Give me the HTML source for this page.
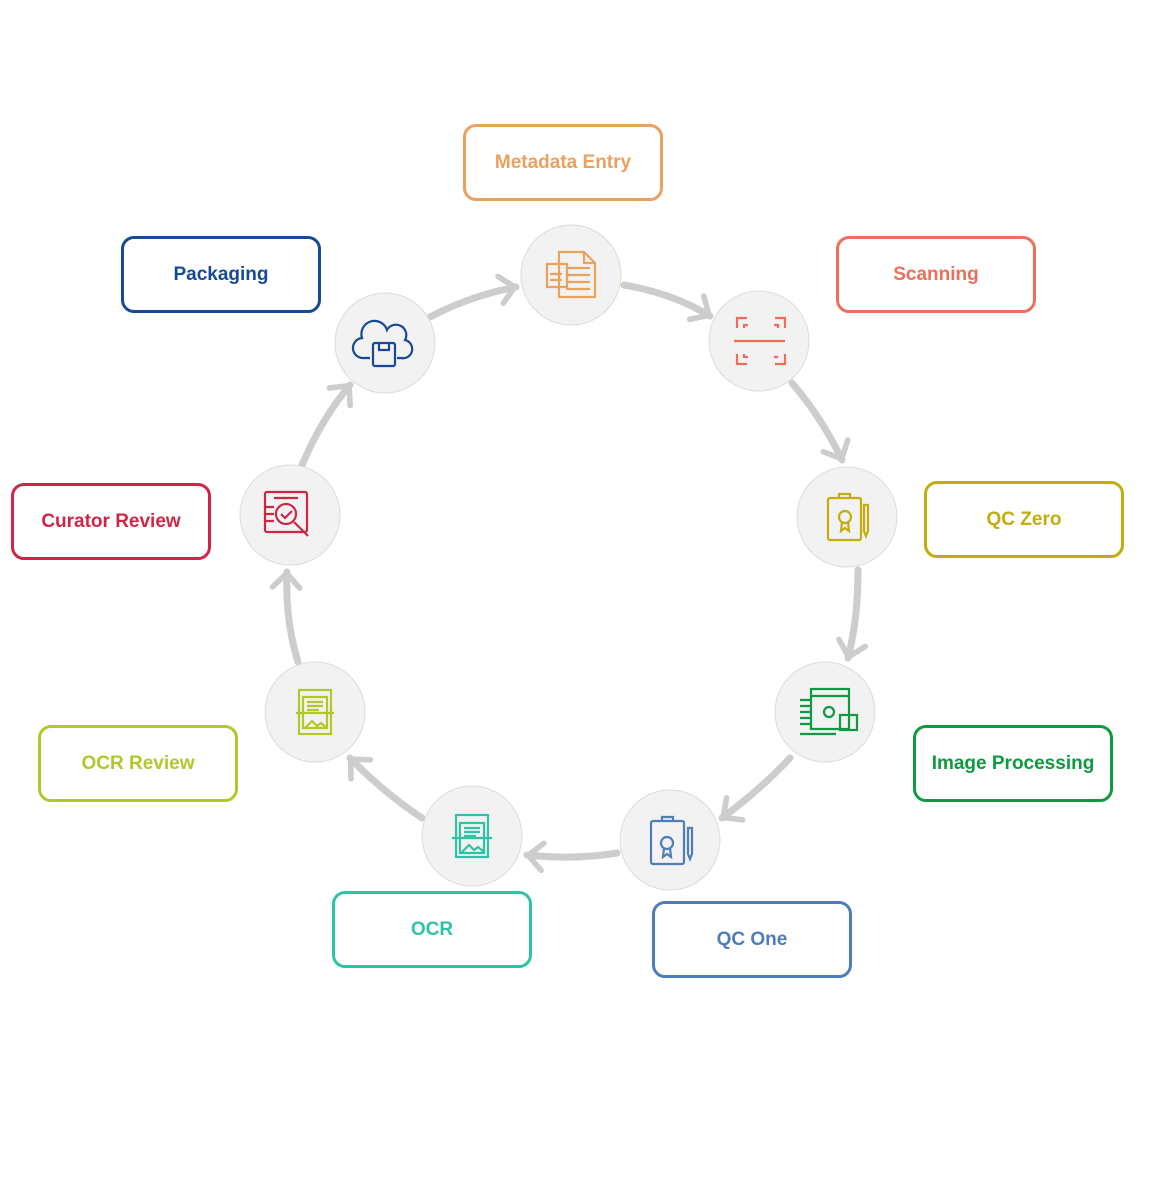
<!DOCTYPE html>
<html><head><meta charset="utf-8"><style>
body{margin:0;background:#fff;width:1158px;height:1198px;position:relative;overflow:hidden;font-family:"Liberation Sans",sans-serif}
.b{position:absolute;width:194px;height:71px;border:3px solid;border-radius:13px;display:flex;align-items:center;justify-content:center;font-weight:bold;font-size:19px;box-sizing:content-box}
</style></head><body>
<svg width="1158" height="1198" style="position:absolute;left:0;top:0">
<defs><marker id="m" markerWidth="8" markerHeight="10" refX="6" refY="5" orient="auto" markerUnits="userSpaceOnUse" viewBox="0 0 8 10" overflow="visible">
<path d="M-12,-12 L6,5 L-12,22" fill="none" stroke="#cdcdcd" stroke-width="7" stroke-linecap="round" stroke-linejoin="round" transform="scale(0.8) translate(0,1)"/></marker></defs>
<g fill="none" stroke="#cdcdcd" stroke-width="7" stroke-linecap="round" marker-end="url(#m)">
<path d="M624,285 Q672,293 710,316"/>
<path d="M792,383 Q822,418 842,460"/>
<path d="M858,570 Q858,620 848,658"/>
<path d="M790,758 Q760,790 722,818"/>
<path d="M617,853 Q575,860 527,855"/>
<path d="M422,818 Q383,792 350,758"/>
<path d="M298,662 Q285,620 287,572"/>
<path d="M302,465 Q322,418 350,385"/>
<path d="M430,317 Q470,296 516,287"/>
</g>
<g fill="#f2f2f2" stroke="#dcdcdc" stroke-width="1">
<circle cx="571" cy="275" r="50"/><circle cx="759" cy="341" r="50"/><circle cx="847" cy="517" r="50"/>
<circle cx="825" cy="712" r="50"/><circle cx="670" cy="840" r="50"/><circle cx="472" cy="836" r="50"/>
<circle cx="315" cy="712" r="50"/><circle cx="290" cy="515" r="50"/><circle cx="385" cy="343" r="50"/>
</g>
<g fill="none" stroke-width="2.2">
<!-- metadata -->
<g stroke="#eba15e"><path d="M559,252 h25 l11,11 v34 h-36 z M584,252 v11 h11"/><path d="M547,264 h20 v23 h-20 z"/><path d="M566,268h24M566,275h24M566,282h24M566,289h24M550,274h12M550,280h12"/></g>
<!-- scanning -->
<g stroke="#ee6e5a"><path d="M737,328v-10h10M775,318h10v10M737,354v10h10M775,364h10v-10M744,328v-3h4M774,325h4v3M744,354v3h4M778,357h-4"/><path d="M734,341h51"/></g>
<!-- qc zero -->
<g stroke="#c2ad0a"><rect x="828" y="498" width="33" height="42" rx="2"/><path d="M839,498v-4h11v4"/><circle cx="845" cy="517" r="6"/><path d="M842,522l-1,9l4,-3l4,3l-1,-9"/><path d="M868,505v26l-2,5l-2,-5v-26z"/></g>
<!-- image processing -->
<g stroke="#0e9a3e"><rect x="811" y="689" width="38" height="40"/><path d="M811,696h38"/><circle cx="829" cy="712" r="5"/><rect x="840" y="715" width="17" height="15"/><path d="M800,700h10M800,706h10M800,712h10M800,718h10M800,724h10M800,734h36"/></g>
<!-- qc one -->
<g stroke="#4f7dba"><rect x="651" y="821" width="33" height="43" rx="2"/><path d="M662,821v-4h11v4"/><circle cx="667" cy="843" r="6"/><path d="M664,848l-1,9l4,-3l4,3l-1,-9"/><path d="M692,828v26l-2,5l-2,-5v-26z"/></g>
<!-- ocr -->
<g stroke="#2fc3a6"><rect x="456" y="815" width="32" height="42"/><path d="M460,823h24v30h-24z"/><path d="M464,828h16M464,832h16M464,836h12"/><path d="M452,838h40"/><path d="M462,852l7,-7l5,5l4,-3l6,5"/></g>
<!-- ocr review -->
<g stroke="#b3c72a"><rect x="299" y="690" width="32" height="44"/><path d="M303,697h24v31h-24z"/><path d="M307,702h16M307,706h16M307,710h12"/><path d="M296,713h38"/><path d="M305,728l7,-7l5,5l4,-3l6,5"/></g>
<!-- curator -->
<g stroke="#cf2645"><rect x="265" y="492" width="42" height="40" rx="2"/><circle cx="286" cy="514" r="10"/><path d="M281,514l4,4l7,-7"/><path d="M294,522l14,14"/><path d="M274,498h24M266,507h8M266,514h8M266,521h8"/></g>
<!-- packaging -->
<g stroke="#164a96"><path d="M370,358h-6a10,10 0 0 1 -2,-20a13,13 0 0 1 25,-8a10,10 0 0 1 18,10a9,9 0 0 1 -4,18h-4"/><rect x="373" y="343" width="22" height="23" rx="2"/><path d="M379,343v7h10v-7"/></g>
</g>
</svg>
<div class="b" style="left:463px;top:124px;border-color:#eba15e;color:#eba15e">Metadata Entry</div>
<div class="b" style="left:121px;top:236px;border-color:#164a96;color:#164a96">Packaging</div>
<div class="b" style="left:836px;top:236px;border-color:#ee6e5a;color:#ee6e5a">Scanning</div>
<div class="b" style="left:924px;top:481px;border-color:#c2ad0a;color:#c2ad0a">QC Zero</div>
<div class="b" style="left:11px;top:483px;border-color:#cf2645;color:#cf2645">Curator Review</div>
<div class="b" style="left:913px;top:725px;border-color:#0e9a3e;color:#0e9a3e">Image Processing</div>
<div class="b" style="left:38px;top:725px;border-color:#b3c72a;color:#b3c72a">OCR Review</div>
<div class="b" style="left:332px;top:891px;border-color:#2fc3a6;color:#2fc3a6">OCR</div>
<div class="b" style="left:652px;top:901px;border-color:#4f7dba;color:#4f7dba">QC One</div>
</body></html>
